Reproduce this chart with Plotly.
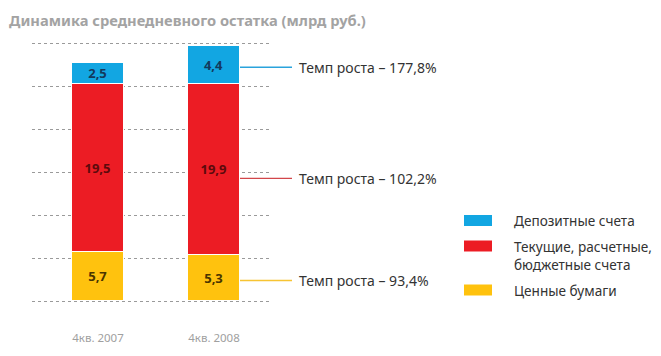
import plotly.graph_objects as go

# ---- data ----
categories = ["4кв. 2007", "4кв. 2008"]
series_names = ["Ценные бумаги", "Текущие, расчетные,<br>бюджетные счета", "Депозитные счета"]
securities = [5.7, 5.3]
current_accounts = [19.5, 19.9]
deposits = [2.5, 4.4]
growth_rates = [93.4, 102.2, 177.8]  # securities, current, deposits
title_text = "Динамика среднедневного остатка (млрд руб.)"

colors = ["#ffc20e", "#ec1c24", "#12a6e2"]
line_colors = ["#f7c433", "#d2464a", "#2aa3dc"]
label_colors = ["#4a3500", "#5c0a0c", "#13395c"]
FONT = "Noto Sans"

# page body has an 8px margin: work in window pixels, convert to figure pixels
OFF = 8
W, H = 661 - OFF, 356 - OFF


def fx(px):
    return (px - OFF) / W


def fy(py):
    return 1 - (py - OFF) / H


series = [securities, current_accounts, deposits]

fig = go.Figure()
for name, vals, c, lc in zip(series_names, series, colors, label_colors):
    fig.add_trace(go.Bar(
        x=categories, y=vals, name=name,
        marker=dict(color=c, line=dict(color="white", width=1)),
        width=0.44,
        text=[f"<b>{v:.1f}</b>".replace(".", ",") for v in vals],
        textposition="inside", insidetextanchor="middle",
        textfont=dict(family=FONT, size=13, color=lc),
        showlegend=False,
        hoverinfo="skip",
    ))

# plot area geometry (window pixels)
x_left, x_right = 32, 270
zero_px, px_per_unit = 301, 8.6
y_lo, y_hi = -0.2, 30.2

shapes = []
annotations = []

# connector lines + growth labels for the 2008 bar
bases = [0, securities[1], securities[1] + current_accounts[1]]
for vals, base, c, g in zip(series, bases, line_colors, growth_rates):
    yv = base + 0.45 * vals[1]
    shapes.append(dict(type="line", xref="paper", yref="y", x0=fx(240), x1=fx(292),
                       y0=yv, y1=yv, line=dict(color=c, width=1.3), layer="above"))
    annotations.append(dict(xref="paper", yref="y", x=fx(297), y=yv, xanchor="left",
                            yanchor="middle", showarrow=False,
                            text=f"Темп роста – {str(g).replace('.', ',')}%",
                            font=dict(family=FONT, size=14, color="#333333")))

# manual legend (top-to-bottom: deposits, current, securities)
leg_items = [(series_names[2], colors[2], 220.5, 221),
             (series_names[1], colors[1], 246, 255),
             (series_names[0], colors[0], 290, 290)]
for name, c, yc, ty in leg_items:
    shapes.append(dict(type="rect", xref="paper", yref="paper",
                       x0=fx(464), x1=fx(492),
                       y0=fy(yc + 5.5), y1=fy(yc - 5.5),
                       fillcolor=c, line=dict(width=0)))
    annotations.append(dict(xref="paper", yref="paper", x=fx(512), y=fy(ty),
                            xanchor="left", yanchor="middle", align="left",
                            showarrow=False, text=name,
                            font=dict(family=FONT, size=13.6, color="#333333")))

# title
annotations.append(dict(xref="paper", yref="paper", x=fx(7), y=fy(20),
                        xanchor="left", yanchor="middle", showarrow=False,
                        text=f"<b>{title_text}</b>",
                        font=dict(family=FONT, size=14.7, color="#a3a3a3")))

px_per_cat = 116
c0 = 98
fig.update_layout(
    width=W, height=H,
    margin=dict(l=0, r=0, t=0, b=0),
    paper_bgcolor="white", plot_bgcolor="white",
    barmode="stack", bargap=0,
    uniformtext=dict(mode="show", minsize=13),
    shapes=shapes, annotations=annotations,
    xaxis=dict(
        domain=[fx(x_left), fx(x_right)],
        range=[(x_left - c0) / px_per_cat, (x_right - c0) / px_per_cat],
        showgrid=False, zeroline=False, showline=False, ticks="",
        tickfont=dict(family=FONT, size=11.5, color="#a0a0a0"),
        ticklabelstandoff=27,
    ),
    yaxis=dict(
        domain=[fy(zero_px - y_lo * px_per_unit), fy(zero_px - y_hi * px_per_unit)],
        range=[y_lo, y_hi], dtick=5,
        showgrid=True, gridcolor="#9a9a9a", griddash="dot", gridwidth=1,
        zeroline=False, showline=False, showticklabels=False, ticks="",
    ),
    font=dict(family=FONT),
)

fig.write_html("out.html")
